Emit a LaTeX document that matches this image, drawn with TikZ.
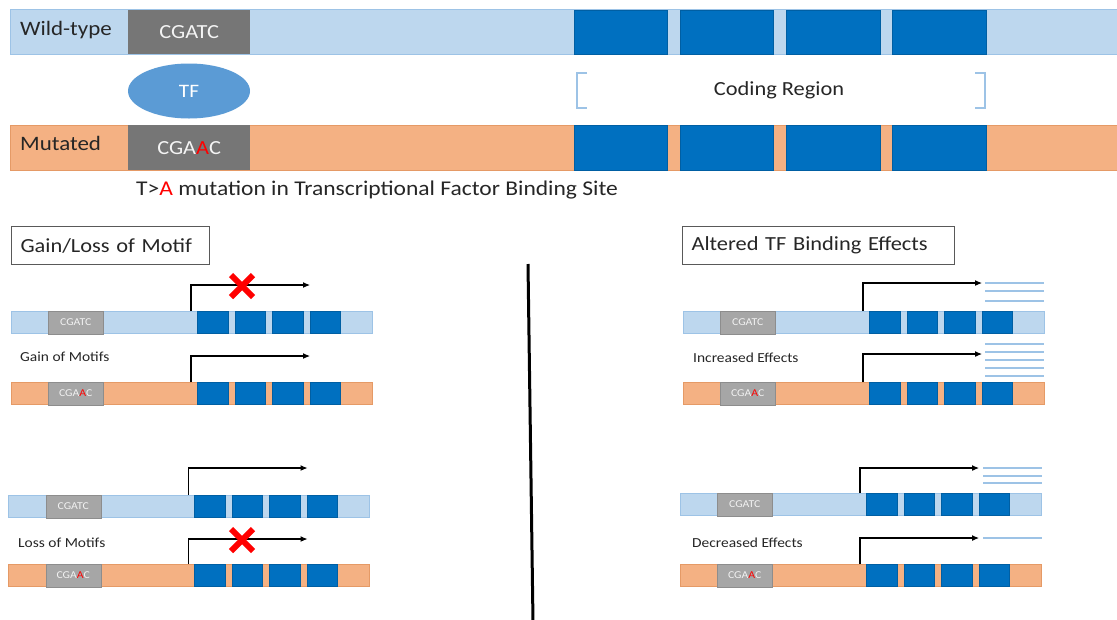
\documentclass[tikz,border=0pt]{standalone}
\usepackage{fontspec}
\setmainfont{Carlito}[FakeStretch=1.12]
\usetikzlibrary{arrows.meta,shapes.geometric}
\definecolor{wtfill}{HTML}{BDD7EE}
\definecolor{wtdraw}{HTML}{9DC3E6}
\definecolor{mtfill}{HTML}{F4B183}
\definecolor{mtdraw}{HTML}{E59A66}
\definecolor{exon}{HTML}{0070C0}
\definecolor{gbig}{HTML}{767676}
\definecolor{gsmall}{HTML}{A6A6A6}
\definecolor{tfcol}{HTML}{5B9BD5}
\definecolor{txt}{HTML}{262626}
\definecolor{boxdraw}{HTML}{595959}
\tikzset{
  exonbox/.style={fill=exon, draw=exon!85!black, line width=0.4pt},
  seqbig/.style={fill=gbig, text=white!92!gbig, font=\fontsize{20}{24}\selectfont, inner sep=0pt},
  seqsmall/.style={fill=gsmall, draw=gsmall!85!black, line width=0.5pt, text=white!85!gsmall, font=\fontsize{10.5}{12}\selectfont, inner sep=0pt},
  lbl/.style={text=txt, font=\fontsize{20}{24}\selectfont, anchor=west, inner sep=0pt},
  small/.style={text=txt, font=\fontsize{13.8}{16}\selectfont, anchor=west, inner sep=0pt},
  titlebox/.style={draw=boxdraw, line width=1.2pt, fill=white},
  tss/.style={draw=black, line width=1.1pt, -{Latex[length=7pt,width=6pt]}},
  xmark/.style={draw=red, line width=6pt},
  rna/.style={draw=wtdraw, line width=1.3pt},
  brk/.style={draw=wtdraw, line width=1.3pt},
}
% #1 shift, #2 fill, #3 draw, #4 seq text, #5 name, #6 arrow height
\newcommand{\generow}[6]{%
  \begin{scope}[shift={#1}]
    \path[fill=#2, draw=#3, line width=1pt] (11,0) rectangle (372,22.5);
    \node[seqsmall, minimum width=55pt, minimum height=22.5pt, anchor=north west] (#5seq) at (48,0) {#4};
    \path[exonbox] (197,0) rectangle (228,22.5);
    \path[exonbox] (235,0) rectangle (265,22.5);
    \path[exonbox] (272,0) rectangle (303,22.5);
    \path[exonbox] (310,0) rectangle (340,22.5);
    \coordinate (#5tss) at (191,0);
    \coordinate (#5end) at (310,#6);
    \draw[tss] (#5tss) |- (#5end);
  \end{scope}}
\newcommand{\mutseq}{CGA{\color{red}A}C}
\begin{document}
\begin{tikzpicture}[x=1pt,y=-1pt]
\useasboundingbox[fill=white] (0,0) rectangle (1117,619);

% ---- top: wild type
\path[fill=wtfill, draw=wtdraw, line width=0.8pt] (10,9) rectangle (1120,54);
\node[seqbig, minimum width=122pt, minimum height=44pt, anchor=north west] (wtseq) at (128,10) {CGATC};
\foreach \a/\b in {574/667,680/773,786/880,892/986}{
  \path[exonbox] (\a,10) rectangle (\b,54);}
\node[lbl, font=\fontsize{20.5}{24}\selectfont] (wtlbl) at (20,30) {Wild-type};

% TF
\node[ellipse, fill=tfcol, minimum width=122pt, minimum height=55pt, text=white,
      font=\fontsize{19}{22}\selectfont, inner sep=0pt] (tf) at (189,91) {TF};

% coding region bracket
\coordinate (brl) at (577,73);
\coordinate (brr) at (985,73);
\draw[brk] ([xshift=10pt]brl) -- (brl) -- ++(0,35) -- ++(10,0);
\draw[brk] ([xshift=-10pt]brr) -- (brr) -- ++(0,35) -- ++(-10,0);
\node[text=txt, font=\fontsize{20}{24}\selectfont] (coding) at (779,90) {Coding Region};

% ---- top: mutated
\path[fill=mtfill, draw=mtdraw, line width=0.8pt] (10,125) rectangle (1120,170);
\node[seqbig, minimum width=122pt, minimum height=45pt, anchor=north west] (mtseq) at (128,125) {\mutseq};
\foreach \a/\b in {574/667,680/773,786/880,892/986}{
  \path[exonbox] (\a,125) rectangle (\b,170);}
\node[lbl, font=\fontsize{20.5}{24}\selectfont] (mtlbl) at (20,143) {Mutated};

\node[lbl, font=\fontsize{21}{24}\selectfont] (caption) at (136,190)
  {T>{\color{red}A} mutation in Transcriptional Factor Binding Site};

% ---- section titles
\node[titlebox, lbl, minimum width=198pt, minimum height=38pt, anchor=north west,
      text width=180pt, inner xsep=9pt] (gl) at (11,226) {Gain/Loss of Motif};
\node[titlebox, lbl, minimum width=272pt, minimum height=38pt, anchor=north west,
      text width=254pt, inner xsep=9pt] (tfb) at (682,226) {Altered TF Binding Effects};

% divider
\coordinate (dtop) at (528,264);
\coordinate (dbot) at (533,622);
\draw[line width=3pt] (dtop) -- (dbot);

% ---- left column
\generow{(0,311)}{wtfill}{wtdraw}{CGATC}{la}{-26}
\draw[xmark] (231,275) -- (253,297) (231,297) -- (253,275);
\node[small] (gain) at (20,357) {Gain of Motifs};
\generow{(0,382)}{mtfill}{mtdraw}{\mutseq}{lb}{-26}

\generow{(-2.5,495)}{wtfill}{wtdraw}{CGATC}{lc}{-27}
\node[small] (loss) at (18,543) {Loss of Motifs};
\generow{(-2.5,564)}{mtfill}{mtdraw}{\mutseq}{ld}{-25}
\draw[xmark] (231,529) -- (253,551) (231,551) -- (253,529);

% ---- right column
\generow{(672,311)}{wtfill}{wtdraw}{CGATC}{ra}{-28}
\foreach \y in {283,291,301}{\draw[rna] (985,\y) -- (1044,\y);}
\node[small] (incr) at (693,358) {Increased Effects};
\generow{(672,382)}{mtfill}{mtdraw}{\mutseq}{rb}{-28}
\foreach \y in {344,352,360,368,376}{\draw[rna] (985,\y) -- (1044,\y);}

\generow{(669,493)}{wtfill}{wtdraw}{CGATC}{rc}{-25}
\foreach \y in {468,476,483}{\draw[rna] (983,\y) -- (1042,\y);}
\node[small] (decr) at (692,543) {Decreased Effects};
\generow{(669,564)}{mtfill}{mtdraw}{\mutseq}{rd}{-26}
\draw[rna] (983,538) -- (1042,538);
\end{tikzpicture}
\end{document}
